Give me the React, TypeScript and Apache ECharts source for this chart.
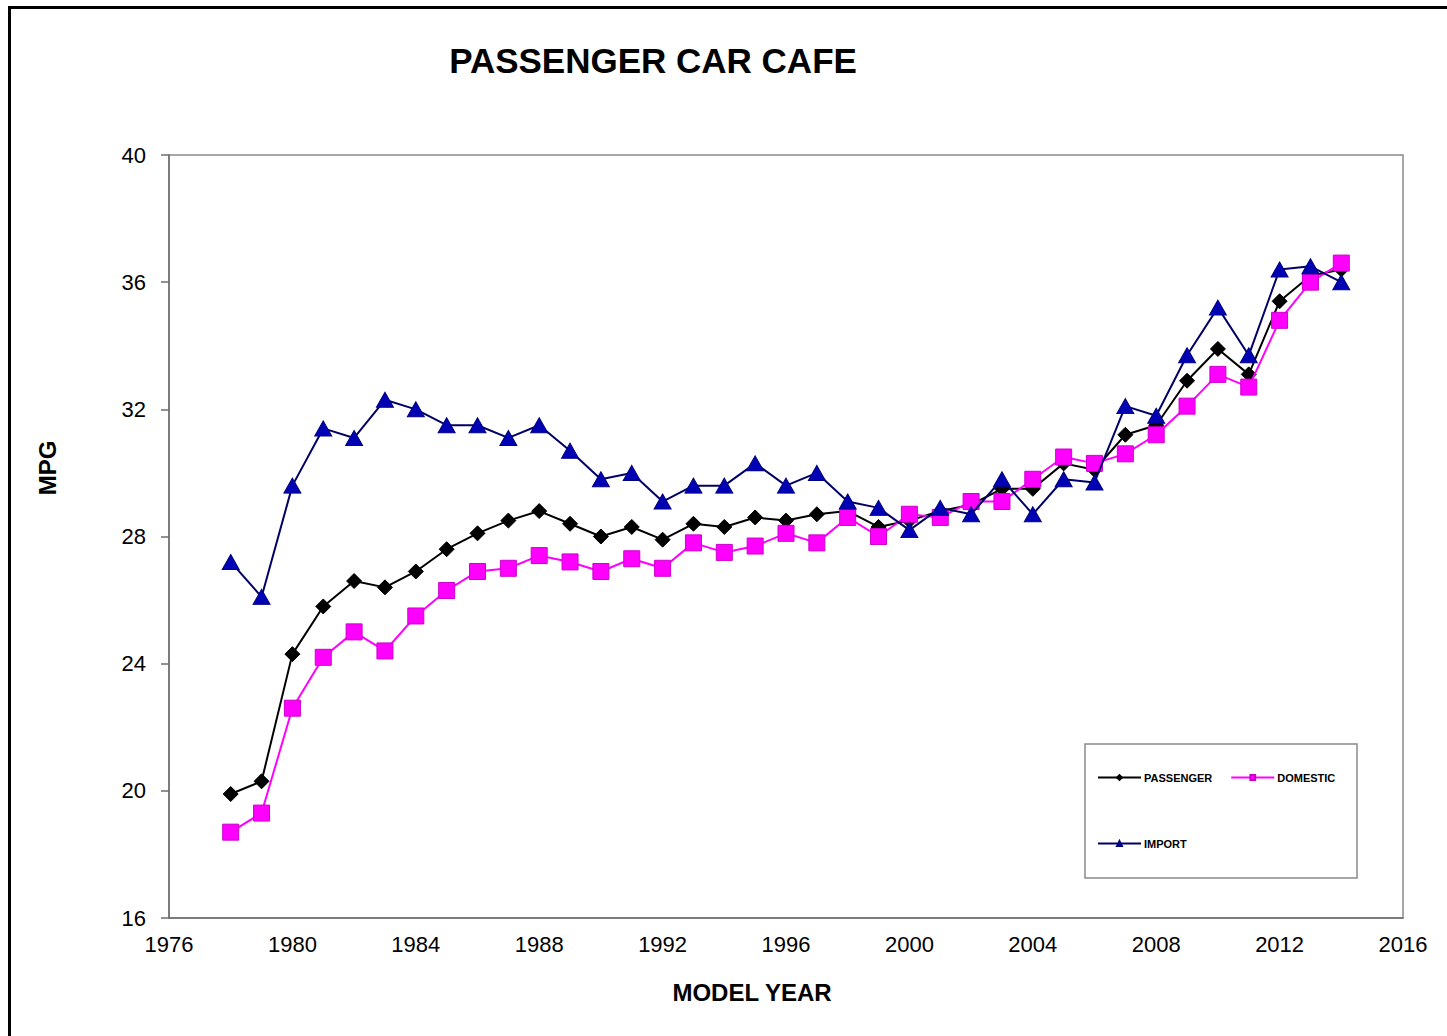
import React, { useEffect, useRef } from "react";
import * as echarts from "echarts";

const years: number[] = [
  1978, 1979, 1980, 1981, 1982, 1983, 1984, 1985, 1986, 1987, 1988, 1989, 1990,
  1991, 1992, 1993, 1994, 1995, 1996, 1997, 1998, 1999, 2000, 2001, 2002, 2003,
  2004, 2005, 2006, 2007, 2008, 2009, 2010, 2011, 2012, 2013, 2014,
];

const passenger: number[] = [
  19.9, 20.3, 24.3, 25.8, 26.6, 26.4, 26.9, 27.6, 28.1, 28.5, 28.8, 28.4, 28.0,
  28.3, 27.9, 28.4, 28.3, 28.6, 28.5, 28.7, 28.8, 28.3, 28.5, 28.8, 29.0, 29.5,
  29.5, 30.3, 30.1, 31.2, 31.5, 32.9, 33.9, 33.1, 35.4, 36.2, 36.4,
];

const domestic: number[] = [
  18.7, 19.3, 22.6, 24.2, 25.0, 24.4, 25.5, 26.3, 26.9, 27.0, 27.4, 27.2, 26.9,
  27.3, 27.0, 27.8, 27.5, 27.7, 28.1, 27.8, 28.6, 28.0, 28.7, 28.6, 29.1, 29.1,
  29.8, 30.5, 30.3, 30.6, 31.2, 32.1, 33.1, 32.7, 34.8, 36.0, 36.6,
];

const imported: number[] = [
  27.2, 26.1, 29.6, 31.4, 31.1, 32.3, 32.0, 31.5, 31.5, 31.1, 31.5, 30.7, 29.8,
  30.0, 29.1, 29.6, 29.6, 30.3, 29.6, 30.0, 29.1, 28.9, 28.2, 28.9, 28.7, 29.8,
  28.7, 29.8, 29.7, 32.1, 31.8, 33.7, 35.2, 33.7, 36.4, 36.5, 36.0,
];

const seriesNames = ["PASSENGER", "DOMESTIC", "IMPORT"];
const titleText = "PASSENGER CAR CAFE";
const xAxisTitle = "MODEL YEAR";
const yAxisTitle = "MPG";

const FONT = "Arial, 'Liberation Sans', Helvetica, sans-serif";

function pairs(vals: number[]) {
  return years.map((y, i) => [y, vals[i]]);
}

export default function App() {
  const ref = useRef<HTMLDivElement>(null);

  useEffect(() => {
    if (!ref.current) return;
    const chart = echarts.init(ref.current, undefined, { renderer: "svg" });
    const axisColor = "#6e6e6e";
    const legendText = {
      fontSize: 11,
      fontWeight: "bold",
      fontFamily: FONT,
      color: "#000",
      padding: [0, 0, 0, -2],
    };
    chart.setOption({
      animation: false,
      backgroundColor: "#ffffff",
      grid: {
        left: 169,
        top: 155,
        width: 1234,
        height: 763,
        show: true,
        borderColor: "#8a8a8a",
        borderWidth: 1.5,
        backgroundColor: "transparent",
      },
      xAxis: {
        type: "value",
        min: 1976,
        max: 2016,
        interval: 4,
        axisLine: { show: true, onZero: false, lineStyle: { color: axisColor, width: 1.5 } },
        axisTick: { show: false },
        splitLine: { show: false },
        axisLabel: {
          color: "#000",
          fontFamily: FONT,
          fontSize: 22,
          margin: 15,
          formatter: (v: number) => String(v),
        },
      },
      yAxis: {
        type: "value",
        min: 16,
        max: 40,
        interval: 4,
        axisLine: { show: true, lineStyle: { color: axisColor, width: 1.5 } },
        axisTick: { show: true, length: 8, lineStyle: { color: axisColor, width: 1.5 } },
        splitLine: { show: false },
        axisLabel: {
          color: "#000",
          fontFamily: FONT,
          fontSize: 22,
          margin: 23,
        },
      },
      legend: [
        {
          data: [seriesNames[0], seriesNames[1]],
          left: 1097,
          top: 772,
          orient: "horizontal",
          padding: 0,
          itemGap: 18,
          itemWidth: 43,
          itemHeight: 6,
          textStyle: legendText,
        },
        {
          data: [seriesNames[2]],
          left: 1097,
          top: 838,
          orient: "horizontal",
          padding: 0,
          itemWidth: 43,
          itemHeight: 6,
          textStyle: legendText,
        },
      ],
      graphic: [
        {
          type: "rect",
          z: -10,
          shape: { x: 9.5, y: 7.5, width: 1500, height: 1100 },
          style: { fill: "transparent", stroke: "#000", lineWidth: 3 },
        },
        {
          type: "rect",
          z: 1,
          shape: { x: 1085, y: 744, width: 272, height: 134 },
          style: { fill: "#fff", stroke: "#8a8a8a", lineWidth: 1.5 },
        },
        {
          type: "text",
          x: 653,
          y: 60,
          style: {
            text: titleText,
            fontFamily: FONT,
            fontSize: 35,
            fontWeight: "bold",
            fill: "#000",
            align: "center",
            verticalAlign: "middle",
          },
        },
        {
          type: "text",
          x: 752,
          y: 992,
          style: {
            text: xAxisTitle,
            fontFamily: FONT,
            fontSize: 24,
            fontWeight: "bold",
            fill: "#000",
            align: "center",
            verticalAlign: "middle",
          },
        },
        {
          type: "text",
          x: 47,
          y: 468,
          rotation: Math.PI / 2,
          style: {
            text: yAxisTitle,
            fontFamily: FONT,
            fontSize: 24,
            fontWeight: "bold",
            fill: "#000",
            align: "center",
            verticalAlign: "middle",
          },
        },
      ],
      series: [
        {
          name: seriesNames[0],
          type: "line",
          data: pairs(passenger),
          symbol: "diamond",
          symbolSize: [15, 15],
          lineStyle: { color: "#000000", width: 2 },
          itemStyle: { color: "#000000", borderColor: "#000000", borderWidth: 1 },
          z: 3,
        },
        {
          name: seriesNames[1],
          type: "line",
          data: pairs(domestic),
          symbol: "rect",
          symbolSize: [16, 16],
          lineStyle: { color: "#ff00ff", width: 2 },
          itemStyle: { color: "#ff00ff", borderColor: "#cc00cc", borderWidth: 1 },
          z: 4,
        },
        {
          name: seriesNames[2],
          type: "line",
          data: pairs(imported),
          symbol: "triangle",
          symbolSize: [17, 15],
          lineStyle: { color: "#000066", width: 2 },
          itemStyle: { color: "#0000b4", borderColor: "#000080", borderWidth: 1 },
          z: 5,
        },
      ],
    });
    return () => chart.dispose();
  }, []);

  return (
    <div
      ref={ref}
      style={{ position: "absolute", left: 0, top: 0, width: 1447, height: 1036, background: "#fff" }}
    />
  );
}
